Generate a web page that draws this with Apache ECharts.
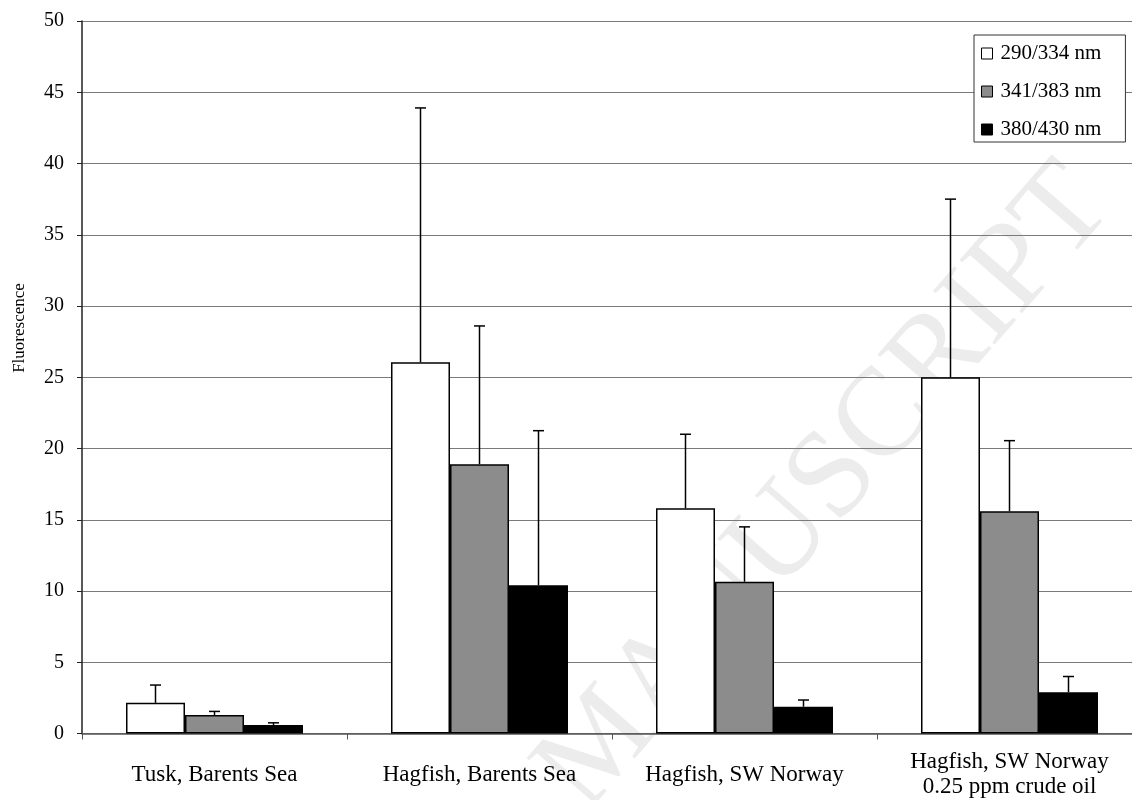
<!DOCTYPE html>
<html>
<head>
<meta charset="utf-8">
<script src="https://cdn.jsdelivr.net/npm/echarts@6/dist/echarts.min.js"></script>
<style>
html,body{margin:0;padding:0;background:#fff;overflow:hidden;}
#chart{width:1142px;height:800px;}
</style>
</head>
<body>
<div id="chart"></div>
<script>
const categories = ['Tusk, Barents Sea', 'Hagfish, Barents Sea', 'Hagfish, SW Norway', 'Hagfish, SW Norway\n0.25 ppm crude oil'];
const seriesNames = ['290/334 nm', '341/383 nm', '380/430 nm'];
const v290 = [2.15, 26.05, 15.8, 25.0];
const e290 = [1.25, 17.85, 5.2, 12.5];
const v341 = [1.3, 18.9, 10.65, 15.6];
const e341 = [0.25, 9.7, 3.85, 4.95];
const v380 = [0.6, 10.4, 1.88, 2.9];
const e380 = [0.15, 10.85, 0.47, 1.1];
const yTicks = { min: 0, max: 50, interval: 5 };

const values = [v290, v341, v380];
const errors = [e290, e341, e380];
const colors = ['#ffffff', '#8c8c8c', '#000000'];
const FONT = '"Liberation Serif", "Times New Roman", serif';
const BAR_W = 59;

const chart = echarts.init(document.getElementById('chart'), null, { renderer: 'canvas' });

const barSeries = seriesNames.map((name, k) => ({
  name: name,
  type: 'bar',
  data: values[k],
  barWidth: BAR_W,
  barGap: '0%',
  itemStyle: { color: colors[k], borderColor: '#000', borderWidth: 1.5 },
  emphasis: { disabled: true },
  z: 2
}));

const errSeries = seriesNames.map((name, k) => ({
  name: 'err' + k,
  type: 'custom',
  z: 3,
  silent: true,
  data: values[k].map((v, i) => [i, v, errors[k][i]]),
  renderItem: function (params, api) {
    const base = api.coord([api.value(0), api.value(1)]);
    const top = api.coord([api.value(0), api.value(1) + api.value(2)]);
    const x = base[0] + (k - 1) * BAR_W;
    const style = { stroke: '#000', lineWidth: 1.5 };
    return {
      type: 'group',
      children: [
        { type: 'line', shape: { x1: x, y1: base[1], x2: x, y2: top[1] }, style: style },
        { type: 'line', shape: { x1: x - 5.5, y1: top[1], x2: x + 5.5, y2: top[1] }, style: style }
      ]
    };
  }
}));

chart.setOption({
  animation: false,
  backgroundColor: '#fff',
  grid: { left: 82, top: 21, width: 1060, height: 712.5, containLabel: false },
  legend: {
    data: seriesNames,
    orient: 'vertical',
    left: 974,
    top: 35,
    padding: [8, 24, 2, 7],
    itemGap: 17,
    itemWidth: 11,
    itemHeight: 11,
    icon: 'rect',
    borderColor: '#333',
    borderWidth: 1,
    backgroundColor: '#fff',
    textStyle: { fontFamily: FONT, fontSize: 21, color: '#000', lineHeight: 20, padding: [0, 0, 0, 3] },
    itemStyle: { borderColor: '#000', borderWidth: 1 }
  },
  xAxis: {
    type: 'category',
    data: categories,
    boundaryGap: true,
    axisLine: { lineStyle: { color: '#555', width: 1.5 } },
    axisTick: { show: true, inside: false, length: 6, lineStyle: { color: '#555' } },
    axisLabel: {
      fontFamily: FONT, fontSize: 23, color: '#000', margin: 41,
      verticalAlign: 'middle', lineHeight: 25, interval: 0
    },
    splitLine: { show: false }
  },
  yAxis: {
    type: 'value',
    min: yTicks.min,
    max: yTicks.max,
    interval: yTicks.interval,
    axisLine: { show: true, lineStyle: { color: '#222', width: 1.5 } },
    axisTick: { show: true, length: 5, lineStyle: { color: '#222' } },
    axisLabel: { fontFamily: FONT, fontSize: 20, color: '#000', margin: 18 },
    splitLine: { show: true, lineStyle: { color: '#7a7a7a', width: 1.2 } }
  },
  graphic: [
    {
      type: 'text',
      x: 1090, y: 185,
      rotation: 0.855,
      z: -1,
      silent: true,
      style: {
        text: 'ACCEPTED MANUSCRIPT',
        font: '125px "Liberation Serif", serif',
        fill: '#ececec',
        textAlign: 'right',
        textVerticalAlign: 'middle'
      }
    },
    {
      type: 'text',
      x: 20, y: 328,
      rotation: Math.PI / 2,
      style: {
        text: 'Fluorescence',
        font: '17px "Liberation Serif", serif',
        fill: '#000',
        textAlign: 'center',
        textVerticalAlign: 'middle'
      }
    }
  ],
  series: barSeries.concat(errSeries)
});
</script>
</body>
</html>
